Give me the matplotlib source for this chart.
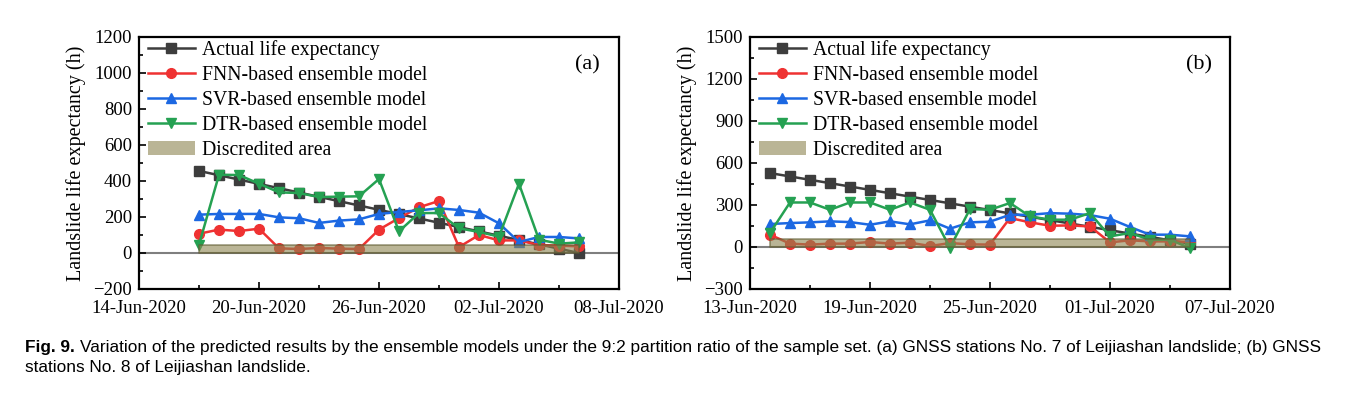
import matplotlib
matplotlib.use("Agg")
import matplotlib.pyplot as plt
import matplotlib.dates as mdates
from matplotlib.patches import Patch
from matplotlib.lines import Line2D
import pandas as pd

plt.rcParams['font.family'] = ['Liberation Serif', 'DejaVu Serif']

# (a) GNSS station No. 7
dates_a = pd.date_range("2020-06-17", "2020-07-06", freq="D")
actual_a = [456, 432, 408, 384, 360, 336, 312, 288, 264, 240,
            216, 192, 168, 144, 120, 96, 72, 48, 24, 0]
fnn_a = [107, 130, 122, 135, 26, 22, 28, 24, 22, 130,
         194, 254, 289, 33, 100, 70, 70, 44, 41, 37]
svr_a = [213, 217, 217, 217, 198, 193, 167, 180, 187, 217,
         228, 237, 248, 239, 224, 165, 61, 89, 89, 81]
dtr_a = [46, 435, 433, 385, 337, 333, 311, 313, 315, 411,
         120, 222, 222, 137, 117, 91, 385, 74, 52, 59]
band_a = 46

# (b) GNSS station No. 8
dates_b = pd.date_range("2020-06-14", "2020-07-05", freq="D")
actual_b = [528, 504, 480, 456, 432, 408, 384, 360, 336, 312, 288,
            264, 240, 216, 192, 168, 144, 120, 96, 72, 48, 24]
fnn_b = [88, 24, 17, 24, 24, 36, 24, 31, 7, 28, 19,
         17, 207, 176, 152, 154, 147, 33, 48, 40, 40, 36]
svr_b = [164, 171, 176, 183, 178, 159, 183, 162, 190, 131, 176,
         181, 230, 230, 242, 238, 228, 202, 143, 88, 88, 76]
dtr_b = [100, 318, 318, 266, 318, 318, 266, 318, 266, -5, 271,
         266, 314, 219, 195, 195, 242, 76, 100, 52, 52, -8]
band_b = 60

labels = ["Actual life expectancy", "FNN-based ensemble model",
          "SVR-based ensemble model", "DTR-based ensemble model",
          "Discredited area"]
colors = ["#3d3d3d", "#ef3232", "#1c68e2", "#25a152"]
markers = ["s", "o", "^", "v"]
band_color = "#8c8550"

fig = plt.figure(figsize=(13.55, 3.94), dpi=100)


def draw_panel(ax, dates, series, band, xlim, ylim, ystep, tag):
    for s, c, m in zip(series, colors, markers):
        ax.plot(dates, s, color=c, marker=m, markersize=7, lw=1.8)
    ax.axhline(0, color="#7f7f7f", lw=1.5, zorder=1)
    ax.fill_between([dates[0], dates[-1]], 0, band, color=band_color,
                    alpha=0.6, lw=1.2, edgecolor="#5e5a30", zorder=5)
    ax.set_xlim(pd.Timestamp(xlim[0]), pd.Timestamp(xlim[1]))
    ax.set_ylim(ylim)
    ax.set_yticks(range(ylim[0], ylim[1] + 1, ystep))
    ax.yaxis.set_minor_locator(matplotlib.ticker.MultipleLocator(ystep / 2))
    ax.set_xticks(pd.date_range(xlim[0], xlim[1], freq="6D"))
    ax.set_xticks(pd.date_range(xlim[0], xlim[1], freq="3D"), minor=True)
    ax.xaxis.set_major_formatter(mdates.DateFormatter("%d-%b-%Y"))
    ax.tick_params(which="both", direction="in", top=False, right=False,
                   labelsize=13.5, width=1.2)
    ax.tick_params(which="major", length=5)
    ax.tick_params(which="minor", length=3)
    ax.tick_params(axis="x", pad=8)
    ax.tick_params(axis="y", pad=5)
    for sp in ax.spines.values():
        sp.set_linewidth(1.6)
    ax.set_ylabel("Landslide life expectancy (h)", fontsize=14.5, labelpad=5)
    handles = [Line2D([], [], color=c, marker=m, markersize=7, lw=1.8)
               for c, m in zip(colors, markers)]
    handles.append(Patch(facecolor=band_color, alpha=0.6))
    ax.legend(handles, labels, loc="upper left", frameon=False, fontsize=14.2,
              handlelength=2.4, handletextpad=0.35, labelspacing=0.3,
              borderaxespad=0.0, borderpad=0.2, bbox_to_anchor=(0.01, 1.003))
    ax.text(0.935, 0.89, tag, transform=ax.transAxes, fontsize=16,
            ha="center", va="center")


ax1 = fig.add_axes([0.1026, 0.2665, 0.3542, 0.6396])
draw_panel(ax1, dates_a, [actual_a, fnn_a, svr_a, dtr_a], band_a,
           ("2020-06-14", "2020-07-08"), (-200, 1200), 200, "(a)")

ax2 = fig.add_axes([0.5535, 0.2665, 0.3542, 0.6396])
draw_panel(ax2, dates_b, [actual_b, fnn_b, svr_b, dtr_b], band_b,
           ("2020-06-13", "2020-07-07"), (-300, 1500), 300, "(b)")

# caption: bold figure number, then the body text right after it
cap_font = ['Liberation Sans Narrow', 'Liberation Sans', 'DejaVu Sans']
cap_size = 12.4
fig_no = fig.text(0.0185, 0.118, "Fig. 9.", fontsize=cap_size,
                  fontweight="bold", family=cap_font, va="center")
fig.canvas.draw()
bb = fig_no.get_window_extent().transformed(fig.transFigure.inverted())
fig.text(bb.x1 + 0.004, 0.118,
         "Variation of the predicted results by the ensemble models under the 9:2 "
         "partition ratio of the sample set. (a) GNSS stations No. 7 of Leijiashan "
         "landslide; (b) GNSS",
         fontsize=cap_size, family=cap_font, va="center")
fig.text(0.0185, 0.066, "stations No. 8 of Leijiashan landslide.",
         fontsize=cap_size, family=cap_font, va="center")

plt.savefig("out.png", dpi=100)
